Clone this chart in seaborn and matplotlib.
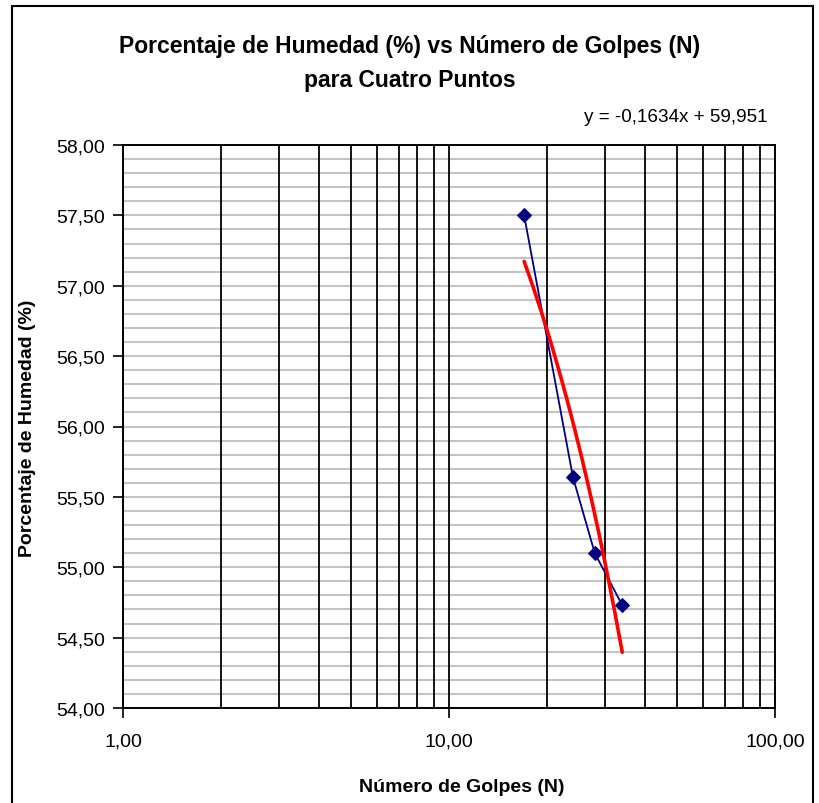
import numpy as np
import pandas as pd
import matplotlib
matplotlib.use("Agg")
import matplotlib.pyplot as plt
import matplotlib.ticker as mticker
from matplotlib.patches import Rectangle
import seaborn as sns

# Ensayo de límite líquido: número de golpes vs humedad
golpes = [17, 24, 28, 34]
humedad = [57.50, 55.64, 55.10, 54.73]

# Recta de tendencia lineal y = m*x + b
pendiente = -0.1634
intercepto = 59.951

titulo_1 = "Porcentaje de Humedad (%) vs Número de Golpes (N)"
titulo_2 = "para Cuatro Puntos"
etiqueta_x = "Número de Golpes (N)"
etiqueta_y = "Porcentaje de Humedad (%)"
ecuacion = "y = -0,1634x + 59,951"

sns.set_theme(style="white")
plt.rcParams["font.family"] = ["Liberation Sans", "DejaVu Sans"]

W, H = 819, 804
fig = plt.figure(figsize=(W / 100, H / 100), dpi=100)
ax = fig.add_axes([123 / W, 1 - 709 / H, (775 - 123) / W, (709 - 146) / H])

df = pd.DataFrame({"golpes": golpes, "humedad": humedad})

# Línea de tendencia evaluada sobre el rango de golpes medidos
xt = np.linspace(min(golpes), max(golpes), 200)
tend = pd.DataFrame({"golpes": xt, "humedad": pendiente * xt + intercepto})

ax.set_xscale("log")
ax.set_xlim(1, 100)
ax.set_ylim(54, 58)

# Rejilla: verticales negras en cada subdivisión logarítmica, horizontales grises cada 0,1
ax.xaxis.set_major_locator(mticker.FixedLocator([1, 10, 100]))
ax.xaxis.set_minor_locator(mticker.LogLocator(base=10, subs=np.arange(2, 10), numticks=20))
ax.yaxis.set_major_locator(mticker.MultipleLocator(0.5))
ax.yaxis.set_minor_locator(mticker.MultipleLocator(0.1))
ax.grid(which="both", axis="y", color="#c4c4c4", linewidth=1.5)
ax.grid(which="both", axis="x", color="black", linewidth=1.3)
ax.set_axisbelow(True)
# líneas verticales negras por encima de las horizontales grises
ax.yaxis.set_zorder(0.4)
ax.xaxis.set_zorder(0.45)

sns.lineplot(data=df, x="golpes", y="humedad", ax=ax, color="#000080",
             linewidth=1.3, marker="D", markersize=7, markeredgecolor="#000080",
             markerfacecolor="#000080", zorder=3)
sns.lineplot(data=tend, x="golpes", y="humedad", ax=ax, color="#ff0000",
             linewidth=2.6, zorder=4)

ax.xaxis.set_major_formatter(mticker.FuncFormatter(lambda v, p: f"{v:.2f}".replace(".", ",")))
ax.xaxis.set_minor_formatter(mticker.NullFormatter())
ax.yaxis.set_major_formatter(mticker.FuncFormatter(lambda v, p: f"{v:.2f}".replace(".", ",")))

ax.tick_params(axis="both", which="major", direction="out", length=7, width=1.2,
               color="black", labelsize=14, labelcolor="black", bottom=True, left=True)
ax.tick_params(axis="x", which="major", pad=11)
ax.tick_params(axis="y", which="major", pad=6)
ax.tick_params(which="minor", length=0, bottom=False, left=False)

for s in ax.spines.values():
    s.set_visible(True)
    s.set_color("black")
    s.set_linewidth(1.4)
    s.set_zorder(5)

ax.set_xlabel("")
ax.set_ylabel("")

fig.text(462 / W, 1 - 788 / H, etiqueta_x, ha="center", va="center",
         fontsize=14, fontweight="bold", color="black")
fig.text(28 / W, 1 - 428 / H, etiqueta_y, ha="center", va="center", rotation=90,
         fontsize=14, fontweight="bold", color="black")
fig.text(410 / W, 1 - 46 / H, titulo_1, ha="center", va="center",
         fontsize=16.5, fontweight="bold", color="black")
fig.text(410 / W, 1 - 81 / H, titulo_2, ha="center", va="center",
         fontsize=16.5, fontweight="bold", color="black")
fig.text(676 / W, 1 - 117 / H, ecuacion, ha="center", va="center",
         fontsize=13.6, color="black")

# Marco exterior del gráfico
fig.patches.append(Rectangle((12 / W, -0.01), (813 - 12) / W, 1 - 7 / H + 0.01,
                             transform=fig.transFigure, fill=False,
                             edgecolor="black", linewidth=1.5))

fig.savefig("out.png", dpi=100)
